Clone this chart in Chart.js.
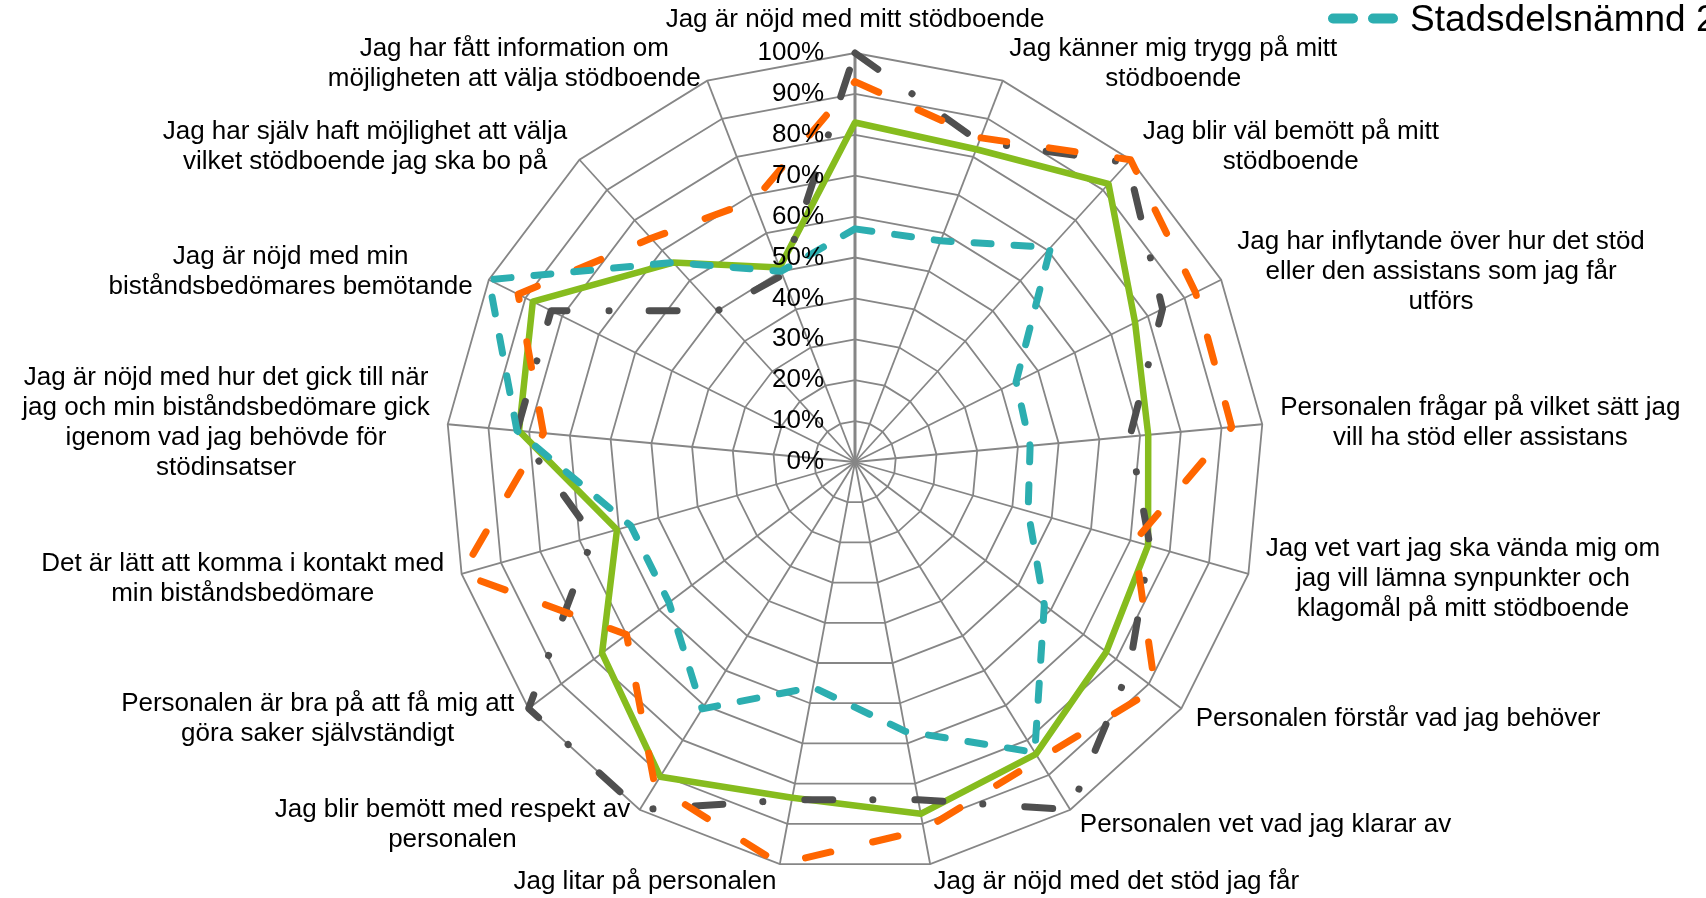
<!DOCTYPE html>
<html>
<head>
<meta charset="utf-8">
<script src="https://cdn.jsdelivr.net/npm/chart.js@4.4.0/dist/chart.umd.min.js"></script>
<style>
  html, body { margin: 0; padding: 0; background: #fff; overflow: hidden; }
  #wrap { width: 1706px; height: 898px; position: relative; }
</style>
</head>
<body>
<div id="wrap"><canvas id="radar"></canvas></div>
<script>
// Categories (one per spoke, clockwise from the top), already split into lines
const categories = [
    ['Jag är nöjd med mitt stödboende'],
    ['Jag känner mig trygg på mitt', 'stödboende'],
    ['Jag blir väl bemött på mitt', 'stödboende'],
    ['Jag har inflytande över hur det stöd', 'eller den assistans som jag får', 'utförs'],
    ['Personalen frågar på vilket sätt jag', 'vill ha stöd eller assistans'],
    ['Jag vet vart jag ska vända mig om', 'jag vill lämna synpunkter och', 'klagomål på mitt stödboende'],
    ['Personalen förstår vad jag behöver'],
    ['Personalen vet vad jag klarar av'],
    ['Jag är nöjd med det stöd jag får'],
    ['Jag litar på personalen'],
    ['Jag blir bemött med respekt av', 'personalen'],
    ['Personalen är bra på att få mig att', 'göra saker självständigt'],
    ['Det är lätt att komma i kontakt med', 'min biståndsbedömare'],
    ['Jag är nöjd med hur det gick till när', 'jag och min biståndsbedömare gick', 'igenom vad jag behövde för', 'stödinsatser'],
    ['Jag är nöjd med min', 'biståndsbedömares bemötande'],
    ['Jag har själv haft möjlighet att välja', 'vilket stödboende jag ska bo på'],
    ['Jag har fått information om', 'möjligheten att välja stödboende']
];

const tickValues = [0, 10, 20, 30, 40, 50, 60, 70, 80, 90, 100];
const tickLabels = ['0%', '10%', '20%', '30%', '40%', '50%', '60%', '70%', '80%', '90%', '100%'];

const seriesNames = ['Stadsdelsnämnd 2', 'Serie 2', 'Serie 3', 'Serie 4'];

// values in percent
const tealValues   = [57, 58, 71, 44, 43, 44, 58, 83.5, 67, 56, 71, 57, 57, 83, 100, 66, 50];
const orangeValues = [93, 85, 100, 93, 92.5, 71, 92, 85.5, 91.5, 100, 93, 70, 100, 76.5, 92, 74, 68.5];
const grayValues   = [100, 84, 99, 84, 67.5, 75, 84, 100, 84, 84, 100, 100, 66.5, 83, 83, 50, 49];
const greenValues  = [83, 82, 92, 76.5, 72, 74.5, 77, 84, 87.5, 83.5, 90.5, 77.5, 60.5, 82.5, 88, 66, 51];

const FONT = '"Liberation Sans", Arial, sans-serif';

// Excel-style labels: ticks left of the vertical axis, centred multi-line category labels
const labelPlugin = {
    id: 'excelLabels',
    afterDatasetsDraw(chart) {
        const r = chart.scales.r;
        const ctx = chart.ctx;
        ctx.save();
        ctx.font = '26px ' + FONT;
        ctx.fillStyle = '#000';
        ctx.textBaseline = 'middle';

        ctx.textAlign = 'right';
        tickValues.forEach((v, k) => {
            const p = r.getPointPositionForValue(0, v);
            ctx.fillText(tickLabels[k], p.x - 31, p.y);
        });

        ctx.textAlign = 'center';
        const lineH = 30;
        categories.forEach((lines, i) => {
            const a = r.getIndexAngle(i);
            const s = Math.sin(a), c = Math.cos(a);
            const anchor = r.getPointPosition(i, r.drawingArea + 18);
            const w = Math.max(...lines.map(t => ctx.measureText(t).width));
            const n = lines.length;
            let cx, y0;
            if (Math.abs(s) < 0.01) {
                cx = anchor.x;
                y0 = c > 0 ? anchor.y - n * lineH + lineH / 2 : anchor.y + lineH / 2;
            } else {
                cx = s > 0 ? anchor.x + w / 2 : anchor.x - w / 2;
                y0 = anchor.y - (n - 1) * lineH / 2;
            }
            lines.forEach((t, k) => ctx.fillText(t, cx, y0 + k * lineH));
        });
        ctx.restore();
    },
    afterDraw(chart) {
        // only the first legend entry fits in the picture
        const ctx = chart.ctx;
        const ds = chart.data.datasets[0];
        ctx.save();
        ctx.strokeStyle = ds.borderColor;
        ctx.lineWidth = 10;
        ctx.lineCap = 'round';
        ctx.setLineDash([20, 20]);
        ctx.beginPath();
        ctx.moveTo(1333, 18.5);
        ctx.lineTo(1393, 18.5);
        ctx.stroke();
        ctx.setLineDash([]);
        ctx.fillStyle = '#000';
        ctx.font = '37px ' + FONT;
        ctx.textAlign = 'left';
        ctx.textBaseline = 'alphabetic';
        ctx.fillText(ds.label, 1410, 31);
        ctx.restore();
    }
};

new Chart(document.getElementById('radar'), {
    type: 'radar',
    data: {
        labels: categories,
        datasets: [
            {
                label: seriesNames[0],
                data: tealValues,
                borderColor: '#2caeb0',
                borderWidth: 7,
                borderDash: [17, 23],
                borderCapStyle: 'round'
            },
            {
                label: seriesNames[1],
                data: orangeValues,
                borderColor: '#ff6600',
                borderWidth: 7,
                borderDash: [26, 43],
                borderCapStyle: 'round'
            },
            {
                label: seriesNames[2],
                data: grayValues,
                borderColor: '#4f4f4f',
                borderWidth: 7,
                borderDash: [28, 42, 0.1, 40],
                borderCapStyle: 'round'
            },
            {
                label: seriesNames[3],
                data: greenValues,
                borderColor: '#86bc1e',
                borderWidth: 6.5
            }
        ]
    },
    options: {
        responsive: true,
        maintainAspectRatio: false,
        animation: false,
        events: [],
        layout: { padding: { top: 53, bottom: 27, left: 200, right: 196 } },
        elements: {
            point: { radius: 0 },
            line: { tension: 0, fill: false, borderJoinStyle: 'round' }
        },
        plugins: {
            legend: { display: false },
            tooltip: { enabled: false }
        },
        scales: {
            r: {
                min: 0,
                max: 100,
                ticks: { display: false, stepSize: 10 },
                pointLabels: { display: false },
                grid: { color: '#868686', lineWidth: 1.8 },
                angleLines: {
                    color: '#868686',
                    lineWidth: ctx => ctx.index === 0 ? 3 : 1.8
                }
            }
        }
    },
    plugins: [labelPlugin]
});
</script>
</body>
</html>
